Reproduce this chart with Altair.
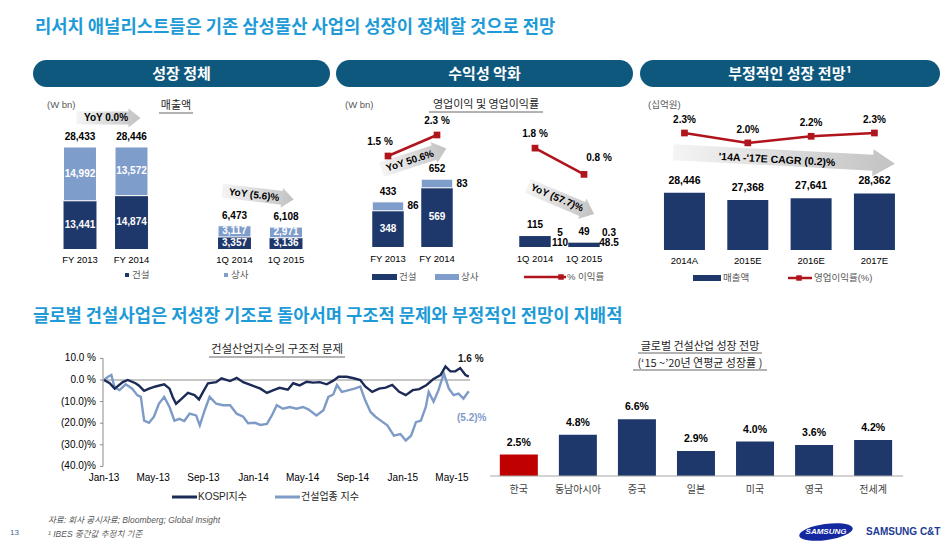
import altair as alt
import pandas as pd

OFF = 8
def X(p): return p - OFF
def Y(p): return p - OFF

TITLE_C = "#1E9BD7"
PILL_C = "#0E587E"
NAVY = "#1F386B"
LIGHT = "#7F9DCB"
RED = "#B0141C"
KOSPI_C = "#1B2A57"
CON_C = "#7E9BC7"
AX_C = "#8C8C8C"
GRAY_T = "#595959"
FONT = "Liberation Sans, Noto Sans CJK KR, sans-serif"
FONT_K = "Noto Sans CJK KR, sans-serif"

# ---------------- data ----------------
p1_cats = ["FY 2013", "FY 2014", "1Q 2014", "1Q 2015"]
p1_construction = [13441, 14874, 3357, 3136]
p1_trading = [14992, 13572, 3117, 2971]
p1_total = [28433, 28446, 6473, 6108]

p2_cats = ["FY 2013", "FY 2014", "1Q 2014", "1Q 2015"]
p2_construction = [348, 569, 110, 48.5]
p2_trading = [86, 83, 5, 0.3]
p2_total = [433, 652, 115, 49]
p2_margin = [1.5, 2.3, 1.8, 0.8]
p2_period = ["FY", "FY", "1Q", "1Q"]

p3_cats = ["2014A", "2015E", "2016E", "2017E"]
p3_sales = [28446, 27368, 27641, 28362]
p3_margin = [2.3, 2.0, 2.2, 2.3]

kospi_dates = ["2013-01-01", "2013-01-15", "2013-01-27", "2013-02-16", "2013-02-28", "2013-03-19",
               "2013-03-27", "2013-04-09", "2013-04-21", "2013-05-07", "2013-05-28", "2013-06-10",
               "2013-06-18", "2013-06-26", "2013-07-08", "2013-07-25", "2013-08-10", "2013-08-21",
               "2013-08-31", "2013-09-12", "2013-10-02", "2013-10-15", "2013-11-05", "2013-11-21",
               "2013-12-07", "2013-12-28", "2014-01-18", "2014-02-03", "2014-02-19", "2014-03-06",
               "2014-03-26", "2014-04-08", "2014-04-24", "2014-05-11", "2014-05-27", "2014-06-12",
               "2014-06-29", "2014-07-15", "2014-07-28", "2014-08-17", "2014-09-03", "2014-09-19",
               "2014-10-01", "2014-10-18", "2014-11-04", "2014-11-20", "2014-12-06", "2014-12-23",
               "2015-01-08", "2015-01-25", "2015-02-10", "2015-02-28", "2015-03-17", "2015-04-03",
               "2015-04-15", "2015-04-27", "2015-05-09", "2015-05-21", "2015-06-03", "2015-06-11"]
kospi_values = [0, -1.5, -4, -1, 0, -1.5,
                -2.5, -5, -4, -3, -2, -4,
                -8, -11, -9, -6, -7, -9,
                -5.5, -1.5, -1, 0.8, -0.5, 1,
                -1, -2.5, -4, -6, -4.7, -3.6,
                -4.5, -1.5, -2.5, -0.8, -1.2, -1,
                -2, -0.3, 1.5, 1.5, 0.8, 0,
                -3, -5.5, -4, -3.5, -2.3, -5.5,
                -7, -4.7, -4.2, -2.3, 0.5, 2.3,
                6.3, 4, 4, 5.5, 2.3, 1.6]

constr_dates = ["2013-01-01", "2013-01-11", "2013-01-19", "2013-01-27", "2013-02-08", "2013-02-23",
                "2013-03-11", "2013-03-23", "2013-04-01", "2013-04-09", "2013-04-21", "2013-05-03",
                "2013-05-15", "2013-05-28", "2013-06-10", "2013-06-22", "2013-07-04", "2013-07-16",
                "2013-07-29", "2013-08-14", "2013-08-23", "2013-09-04", "2013-09-16", "2013-10-02",
                "2013-10-19", "2013-11-05", "2013-11-21", "2013-12-07", "2013-12-19", "2014-01-05",
                "2014-01-18", "2014-02-03", "2014-02-15", "2014-02-27", "2014-03-14", "2014-03-31",
                "2014-04-16", "2014-05-02", "2014-05-15", "2014-06-04", "2014-06-21", "2014-07-03",
                "2014-07-15", "2014-07-24", "2014-08-05", "2014-08-22", "2014-09-07", "2014-09-19",
                "2014-10-01", "2014-10-14", "2014-10-26", "2014-11-08", "2014-11-24", "2014-12-10",
                "2014-12-26", "2015-01-08", "2015-01-21", "2015-02-02", "2015-02-14", "2015-02-26",
                "2015-03-05", "2015-03-17", "2015-03-29", "2015-04-11", "2015-04-23", "2015-05-05",
                "2015-05-17", "2015-05-29", "2015-06-11"]
constr_values = [0, 1.5, 2.3, -3.6, -4.7, -2,
                 -4, -7, -7.8, -18.8, -19.8, -17,
                 -11, -7.8, -12.5, -18.8, -18, -19,
                 -15.6, -16.4, -21, -14, -7.8, -11,
                 -11.7, -11.7, -15.6, -17, -20, -19.8,
                 -20.8, -20.3, -16.4, -11.7, -13.3, -12.5,
                 -13.3, -12.5, -13.6, -16.4, -14, -7.8,
                 -6.7, -2.3, -5.5, -4.7, -3.9, -3,
                 -9.4, -14.8, -17, -18.8, -21, -25.8,
                 -25, -28, -25.8, -19.5, -18.8, -12.5,
                 -5.5, -10, -4.7, 3.1, -3.9, -7,
                 -6.3, -8.6, -5.2]

line_y_ticks = [10, 0, -10, -20, -30, -40]
line_y_labels = ["10.0 %", "0.0 %", "(10.0)%", "(20.0)%", "(30.0)%", "(40.0)%"]
line_x_ticks = ["2013-01-01", "2013-05-01", "2013-09-01", "2014-01-01",
                "2014-05-01", "2014-09-01", "2015-01-01", "2015-05-01"]
line_x_labels = ["Jan-13", "May-13", "Sep-13", "Jan-14", "May-14", "Sep-14", "Jan-15", "May-15"]

gc_cats = ["한국", "동남아시아", "중국", "일본", "미국", "영국", "전세계"]
gc_growth = [2.5, 4.8, 6.6, 2.9, 4.0, 3.6, 4.2]

# ---------------- helpers ----------------
ONE = alt.Data(values=[{"k": 1}])
layers = []


def band(domain, a, b, pi):
    return alt.Scale(type="band", domain=domain, range=[X(a), X(b)],
                     paddingInner=pi, paddingOuter=pi / 2)


def lin(d0, d1, r0, r1):
    return alt.Scale(type="linear", domain=[d0, d1], range=[Y(r0), Y(r1)],
                     nice=False, zero=False)


def ex(field, scale, t="N"):
    return alt.X(f"{field}:{t}", scale=scale, axis=None)


def ey(field, scale):
    return alt.Y(f"{field}:Q", scale=scale, axis=None)


def text(t, x, y, size=10, color="#000000", weight="normal", align="center",
         font=FONT, angle=0, style="normal"):
    m = dict(text=t, fontSize=size, color=color, fontWeight=weight, align=align,
             font=font, baseline="middle", fontStyle=style)
    if angle:
        m["angle"] = angle % 360
    return alt.Chart(ONE).mark_text(**m).encode(x=alt.value(X(x)), y=alt.value(Y(y)))


def hrule(x0, x1, y, color="#404040", w=1.0):
    return alt.Chart(ONE).mark_rule(color=color, strokeWidth=w).encode(
        x=alt.value(X(x0)), x2=alt.value(X(x1)), y=alt.value(Y(y)))


def swatch(x0, x1, y0, y1, color):
    return alt.Chart(ONE).mark_rect(color=color).encode(
        x=alt.value(X(x0)), x2=alt.value(X(x1)), y=alt.value(Y(y0)), y2=alt.value(Y(y1)))


def square(x, y, color, size=30):
    return alt.Chart(ONE).mark_square(color=color, size=size, opacity=1).encode(
        x=alt.value(X(x)), y=alt.value(Y(y)))


def ktitle(t, cx, y, width, size=11, gap=7):
    return [text(t, cx, y, size=size, color="#262626", font=FONT_K),
            hrule(cx - width / 2, cx + width / 2, y + gap, color="#404040", w=0.8)]


GRAD = alt.LinearGradient(
    gradient="linear",
    stops=[alt.GradientStop(color="#F4F4F4", offset=0),
           alt.GradientStop(color="#C2C2C2", offset=1)],
    x1=0, x2=1, y1=0, y2=0)


def arrow(cx, cy, w, body, head, head_len, angle):
    u = w / 2
    hb, hh, hx = body / 2 / u, head / 2 / u, 1 - head_len / u
    path = (f"M-1,{-hb:.4f}L{hx:.4f},{-hb:.4f}L{hx:.4f},{-hh:.4f}L1,0"
            f"L{hx:.4f},{hh:.4f}L{hx:.4f},{hb:.4f}L-1,{hb:.4f}Z")
    return alt.Chart(ONE).mark_point(shape=path, size=w * w, filled=True, fill=GRAD,
                                     opacity=1, strokeWidth=0, angle=angle % 360).encode(
        x=alt.value(X(cx)), y=alt.value(Y(cy)))


def pill(x0, x1, y0, y1, label):
    return [alt.Chart(ONE).mark_rect(color=PILL_C, cornerRadius=(y1 - y0) / 2).encode(
                x=alt.value(X(x0)), x2=alt.value(X(x1)), y=alt.value(Y(y0)), y2=alt.value(Y(y1))),
            text(label, (x0 + x1) / 2, (y0 + y1) / 2 + 0.5, size=15, color="white",
                 weight="bold", font=FONT_K)]


# ---------------- headings ----------------
layers.append(text("리서치 애널리스트들은 기존 삼성물산 사업의 성장이 정체할 것으로 전망",
                   35, 28, size=17.7, color=TITLE_C, weight="bold", align="left", font=FONT_K))
layers += pill(33, 330, 60, 87, "성장 정체")
layers += pill(336, 633, 60, 87, "수익성 악화")
layers += pill(640, 940, 60, 87, "부정적인 성장 전망¹")
layers.append(text("글로벌 건설사업은 저성장 기조로 돌아서며 구조적 문제와 부정적인 전망이 지배적",
                   33, 317, size=17.7, color=TITLE_C, weight="bold", align="left", font=FONT_K))

# ---------------- panel 1 : 매출액 ----------------
df1 = pd.DataFrame({"cat": p1_cats, "con": p1_construction, "tr": p1_trading, "tot": p1_total})
df1["top"] = df1.con + df1.tr
df1["con_mid"] = df1.con / 2
df1["tr_mid"] = df1.con + df1.tr / 2
p1x = band(["FY 2013", "FY 2014", " ", "1Q 2014", "1Q 2015"], 54.25, 311.75, 0.36)
p1y = lin(0, 30000, 249, 249 - 30000 * 0.003587)

layers.append(text("(W bn)", 47, 105, size=9.5, color=GRAY_T, align="left"))
layers += ktitle("매출액", 176, 106, 34)
layers.append(alt.Chart(df1).mark_bar(color=NAVY).encode(
    x=ex("cat", p1x), y=ey("con", p1y), y2=alt.Y2Datum(0)))
layers.append(alt.Chart(df1).mark_bar(color=LIGHT, stroke="white", strokeWidth=1).encode(
    x=ex("cat", p1x), y=ey("top", p1y), y2=alt.Y2("con:Q")))
layers.append(alt.Chart(df1).mark_text(color="white", fontWeight="bold", fontSize=10, font=FONT).encode(
    x=ex("cat", p1x), y=ey("con_mid", p1y), text=alt.Text("con:Q", format=",")))
layers.append(alt.Chart(df1).mark_text(color="white", fontWeight="bold", fontSize=10, font=FONT).encode(
    x=ex("cat", p1x), y=ey("tr_mid", p1y), text=alt.Text("tr:Q", format=",")))
layers.append(alt.Chart(df1).mark_text(color="black", fontWeight="bold", fontSize=10, font=FONT, dy=-10).encode(
    x=ex("cat", p1x), y=ey("tot", p1y), text=alt.Text("tot:Q", format=",")))
layers.append(alt.Chart(df1).mark_text(color="black", fontSize=9.5, font=FONT).encode(
    x=ex("cat", p1x), y=alt.value(Y(260)), text="cat:N"))
layers.append(arrow(108.5, 118, 64, 13, 19, 12, 0))
layers.append(text("YoY 0.0%", 106, 118, size=10, weight="bold"))
layers.append(arrow(258, 195, 72, 14, 20, 12, 7))
layers.append(text("YoY (5.6)%", 254, 195, size=10, weight="bold", angle=7))
layers.append(square(127, 275, NAVY, 16))
layers.append(text("건설", 132, 275, size=9.5, color=GRAY_T, align="left"))
layers.append(square(226, 275, LIGHT, 16))
layers.append(text("상사", 231, 275, size=9.5, color=GRAY_T, align="left"))

# ---------------- panel 2 : 영업이익 ----------------
df2 = pd.DataFrame({"cat": p2_cats, "con": p2_construction, "tr": p2_trading,
                    "tot": p2_total, "m": p2_margin, "grp": p2_period})
df2["top"] = df2.con + df2.tr
df2["con_mid"] = df2.con / 2
df2["tr_mid"] = df2.con + df2.tr / 2
df2["zero"] = 0
df2["con_t"] = [f"{v:g}" for v in df2.con]
df2["tr_t"] = [f"{v:g}" for v in df2.tr]
df2["tot_t"] = [f"{v:g}" for v in df2.tot]
df2["m_t"] = [f"{v:.1f} %" for v in df2.m]
fy2 = df2[df2.grp == "FY"]
q2 = df2[df2.grp == "1Q"]
p2x = band(["FY 2013", "FY 2014", " ", "1Q 2014", "1Q 2015"], 363.5, 608.5, 0.357)
p2y = lin(0, 700, 247, 247 - 72.8)
p2m = lin(0, 3, 195.4, 116.6)

layers.append(text("(W bn)", 345, 105, size=9.5, color=GRAY_T, align="left"))
layers += ktitle("영업이익 및 영업이익률", 486, 105, 114)
layers.append(alt.Chart(df2).mark_bar(color=NAVY).encode(
    x=ex("cat", p2x), y=ey("con", p2y), y2=alt.Y2Datum(0)))
layers.append(alt.Chart(df2).mark_bar(color=LIGHT, stroke="white", strokeWidth=1).encode(
    x=ex("cat", p2x), y=ey("top", p2y), y2=alt.Y2("con:Q")))
layers.append(alt.Chart(fy2).mark_text(color="white", fontWeight="bold", fontSize=10, font=FONT).encode(
    x=ex("cat", p2x), y=ey("con_mid", p2y), text="con_t:N"))
layers.append(alt.Chart(fy2).mark_text(color="black", fontWeight="bold", fontSize=10, font=FONT, dx=25).encode(
    x=ex("cat", p2x), y=ey("tr_mid", p2y), text="tr_t:N"))
layers.append(alt.Chart(q2).mark_text(color="black", fontWeight="bold", fontSize=10, font=FONT, dx=25, dy=-14).encode(
    x=ex("cat", p2x), y=ey("zero", p2y), text="tr_t:N"))
layers.append(alt.Chart(q2).mark_text(color="black", fontWeight="bold", fontSize=10, font=FONT, dx=25, dy=-4).encode(
    x=ex("cat", p2x), y=ey("zero", p2y), text="con_t:N"))
layers.append(alt.Chart(df2).mark_text(color="black", fontWeight="bold", fontSize=10, font=FONT, dy=-10).encode(
    x=ex("cat", p2x), y=ey("top", p2y), text="tot_t:N"))
layers.append(alt.Chart(df2).mark_text(color="black", fontSize=9.5, font=FONT).encode(
    x=ex("cat", p2x), y=alt.value(Y(259)), text="cat:N"))
layers.append(arrow(414, 159, 68, 15, 22, 13, -18))
layers.append(text("YoY 50.6%", 410, 161, size=10, weight="bold", angle=-18))
layers.append(arrow(561, 200, 72, 15, 22, 13, 23))
layers.append(text("YoY (57.7)%", 557, 198, size=10, weight="bold", angle=23))
layers.append(alt.Chart(df2).mark_line(color=RED, strokeWidth=2.5).encode(
    x=ex("cat", p2x), y=ey("m", p2m), detail="grp:N"))
layers.append(alt.Chart(df2).mark_square(color=RED, size=45, opacity=1).encode(
    x=ex("cat", p2x), y=ey("m", p2m)))
layers.append(alt.Chart(df2.iloc[[0]]).mark_text(fontWeight="bold", fontSize=10, font=FONT, dx=-8, dy=-14).encode(
    x=ex("cat", p2x), y=ey("m", p2m), text="m_t:N"))
layers.append(alt.Chart(df2.iloc[[1, 2]]).mark_text(fontWeight="bold", fontSize=10, font=FONT, dy=-14).encode(
    x=ex("cat", p2x), y=ey("m", p2m), text="m_t:N"))
layers.append(alt.Chart(df2.iloc[[3]]).mark_text(fontWeight="bold", fontSize=10, font=FONT, dx=15, dy=-16).encode(
    x=ex("cat", p2x), y=ey("m", p2m), text="m_t:N"))
layers.append(swatch(372, 397, 274, 280, NAVY))
layers.append(text("건설", 399, 277, size=9.5, color=GRAY_T, align="left"))
layers.append(swatch(435, 459, 274, 280, LIGHT))
layers.append(text("상사", 461, 277, size=9.5, color=GRAY_T, align="left"))
layers.append(hrule(524, 566, 277, color=RED, w=2.5))
layers.append(square(561, 277, RED, 30))
layers.append(text("% 이익률", 567, 277, size=9.5, color=GRAY_T, align="left"))

# ---------------- panel 3 : 전망 ----------------
df3 = pd.DataFrame({"cat": p3_cats, "s": p3_sales, "m": p3_margin})
df3["m_t"] = [f"{v:.1f}%" for v in df3.m]
p3x = band(p3_cats, 652.8, 906.1, 0.3526)
p3y = lin(20000, 30000, 250, 182.3)
p3m = lin(0, 3, 208.9, 109.9)

layers.append(text("(십억원)", 648, 105, size=9.5, color=GRAY_T, align="left"))
layers.append(arrow(784, 158, 222, 16, 27, 22, 3))
layers.append(text("'14A -'17E CAGR (0.2)%", 777, 160, size=10.5, weight="bold", angle=3))
layers.append(alt.Chart(df3).mark_bar(color=NAVY).encode(
    x=ex("cat", p3x), y=ey("s", p3y), y2=alt.Y2Datum(20000)))
layers.append(alt.Chart(df3).mark_text(color="black", fontWeight="bold", fontSize=10.5, font=FONT, dy=-12).encode(
    x=ex("cat", p3x), y=ey("s", p3y), text=alt.Text("s:Q", format=",")))
layers.append(alt.Chart(df3).mark_line(color=RED, strokeWidth=2.5).encode(
    x=ex("cat", p3x), y=ey("m", p3m)))
layers.append(alt.Chart(df3).mark_square(color=RED, size=45, opacity=1).encode(
    x=ex("cat", p3x), y=ey("m", p3m)))
layers.append(alt.Chart(df3).mark_text(color="black", fontWeight="bold", fontSize=10, font=FONT, dy=-13).encode(
    x=ex("cat", p3x), y=ey("m", p3m), text="m_t:N"))
layers.append(alt.Chart(df3).mark_text(color="black", fontSize=9.5, font=FONT).encode(
    x=ex("cat", p3x), y=alt.value(Y(261)), text="cat:N"))
layers.append(swatch(693, 721, 275, 281, NAVY))
layers.append(text("매출액", 723, 278, size=9.5, color=GRAY_T, align="left"))
layers.append(hrule(788, 812, 278, color=RED, w=2.5))
layers.append(square(799, 278, RED, 30))
layers.append(text("영업이익률(%)", 814, 278, size=9.5, color=GRAY_T, align="left"))

# ---------------- bottom-left : index lines ----------------
dfk = pd.DataFrame({"date": kospi_dates, "v": kospi_values})
dfc = pd.DataFrame({"date": constr_dates, "v": constr_values})
dfty = pd.DataFrame({"v": line_y_ticks, "lab": line_y_labels})
dftx = pd.DataFrame({"date": line_x_ticks, "lab": line_x_labels})
lx = alt.Scale(type="utc",
               domain=[alt.DateTime(year=2013, month=1, date=1, utc=True),
                       alt.DateTime(year=2015, month=5, date=1, utc=True)],
               range=[X(104), X(452)], nice=False)
ly = lin(-40, 10, 466.4, 358.4)

layers += ktitle("건설산업지수의 구조적 문제", 277, 350, 136, size=11.5)
layers.append(alt.Chart(ONE).mark_rule(color=AX_C, strokeWidth=1).encode(
    x=alt.value(X(103)), y=alt.YDatum(10, scale=ly, axis=None), y2=alt.Y2Datum(-40)))
layers.append(alt.Chart(dfty).mark_rule(color=AX_C, strokeWidth=1).encode(
    x=alt.value(X(100)), x2=alt.value(X(103)), y=ey("v", ly)))
layers.append(alt.Chart(ONE).mark_rule(color=AX_C, strokeWidth=1).encode(
    x=alt.value(X(103)), x2=alt.value(X(470)), y=alt.YDatum(0, scale=ly, axis=None)))
layers.append(alt.Chart(dfty).mark_text(color="black", fontSize=10, font=FONT, align="right").encode(
    x=alt.value(X(96)), y=ey("v", ly), text="lab:N"))
layers.append(alt.Chart(dftx).mark_text(color="black", fontSize=10, font=FONT).encode(
    x=alt.X("date:T", scale=lx, axis=None), y=alt.value(Y(478)), text="lab:N"))
layers.append(alt.Chart(dfc).mark_line(color=CON_C, strokeWidth=2.4).encode(
    x=alt.X("date:T", scale=lx, axis=None), y=ey("v", ly)))
layers.append(alt.Chart(dfk).mark_line(color=KOSPI_C, strokeWidth=2.4).encode(
    x=alt.X("date:T", scale=lx, axis=None), y=ey("v", ly)))
layers.append(text("1.6 %", 458, 359, size=10, weight="bold", color="#1A1A1A", align="left"))
layers.append(text("(5.2)%", 457, 418, size=10, weight="bold", color=CON_C, align="left"))
layers.append(hrule(172, 197, 497, color=KOSPI_C, w=3))
layers.append(text("KOSPI지수", 198, 497, size=10, color="#262626", align="left"))
layers.append(hrule(275, 300, 497, color=CON_C, w=3))
layers.append(text("건설업종 지수", 301, 497, size=10, color="#262626", align="left"))

# ---------------- bottom-right : global construction growth ----------------
dfg = pd.DataFrame({"cat": gc_cats, "g": gc_growth})
dfg["g_t"] = [f"{v:.1f}%" for v in dfg.g]
gx = band(gc_cats, 489.3, 902.65, 0.3565)
gy = lin(0, 7, 476, 415.8)

layers += ktitle("글로벌 건설산업 성장 전망", 700, 347, 124, size=11, gap=6)
layers += ktitle("(‘15 ~’20년 연평균 성장률 )", 700, 364, 134, size=11, gap=6)
layers.append(alt.Chart(dfg).mark_bar().encode(
    x=ex("cat", gx), y=ey("g", gy), y2=alt.Y2Datum(0),
    color=alt.condition(alt.datum.cat == "한국", alt.value("#C00000"), alt.value(NAVY))))
layers.append(hrule(490, 903, 476, color="#A6A6A6", w=1))
layers.append(alt.Chart(dfg).mark_text(color="black", fontWeight="bold", fontSize=10.5, font=FONT, dy=-12).encode(
    x=ex("cat", gx), y=ey("g", gy), text="g_t:N"))
layers.append(alt.Chart(dfg).mark_text(color="#404040", fontSize=10, font=FONT).encode(
    x=ex("cat", gx), y=alt.value(Y(490)), text="cat:N"))

# ---------------- footer ----------------
layers.append(text("자료: 회사 공시자료; Bloomberg; Global Insight", 48, 520, size=8.5,
                   color=GRAY_T, align="left", style="italic"))
layers.append(text("13", 10, 533, size=8, color="#3F6A92", align="left"))
layers.append(text("¹ IBES 중간값 추정치 기준", 48, 534, size=8.5, color=GRAY_T,
                   align="left", style="italic"))
ELLIPSE = "M-1,0A1,0.3,0,1,1,1,0A1,0.3,0,1,1,-1,0Z"
layers.append(alt.Chart(ONE).mark_point(shape=ELLIPSE, size=54 * 54, filled=True, color="#1428A0",
                                        opacity=1, strokeWidth=0, angle=352).encode(
    x=alt.value(X(826)), y=alt.value(Y(532))))
layers.append(text("SAMSUNG", 826, 532, size=8, color="white", weight="bold", style="italic"))
layers.append(text("SAMSUNG C&T", 866, 532, size=10, color="#1C3A94", weight="bold", align="left"))

chart = alt.layer(*layers).resolve_scale(x="independent", y="independent").properties(
    width=933, height=533, background="white", padding=0,
    autosize=alt.AutoSizeParams(type="none"),
).configure_view(stroke=None)

chart.save("out.html", embed_options={"renderer": "svg", "actions": False})
